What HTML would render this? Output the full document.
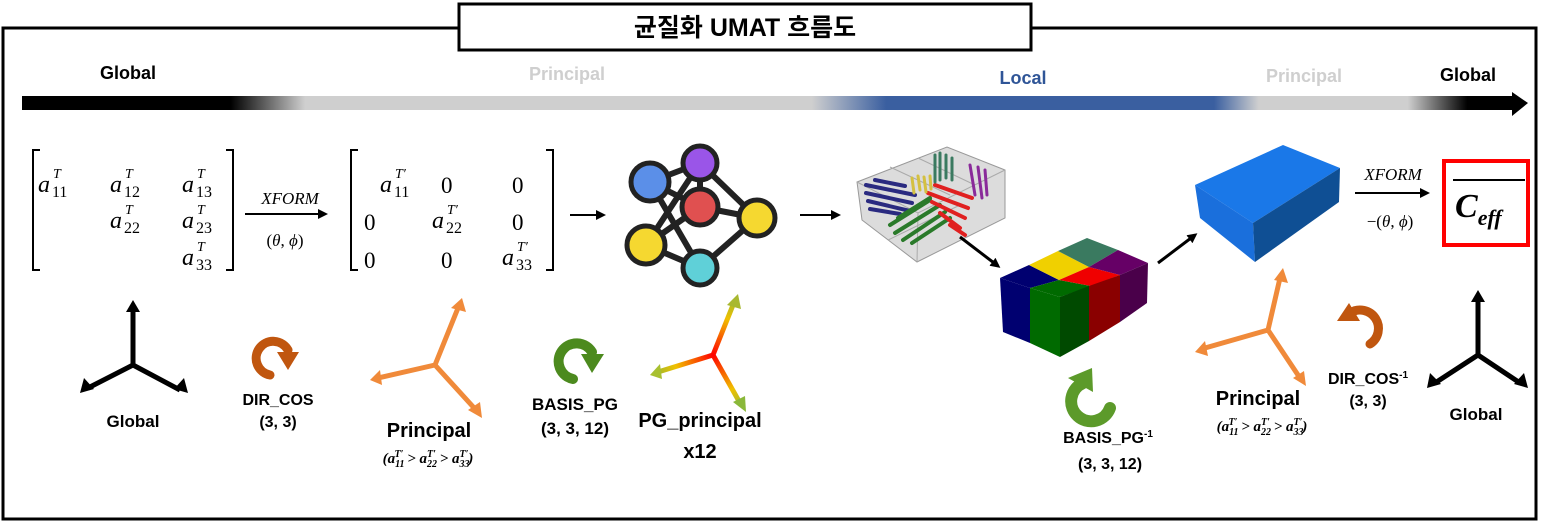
<!DOCTYPE html>
<html><head><meta charset="utf-8"><style>
html,body{margin:0;padding:0;background:#fff;}
svg{display:block;}
.b{font-family:"Liberation Sans","Noto Sans CJK KR",sans-serif;font-weight:bold;}
.m{font-family:"Liberation Serif",serif;font-style:italic;}
.r{font-family:"Liberation Serif",serif;}
</style></head><body>
<svg width="1551" height="524" viewBox="0 0 1551 524" xmlns="http://www.w3.org/2000/svg">
<defs>
<linearGradient id="bar" x1="22" x2="1512" gradientUnits="userSpaceOnUse">
<stop offset="0" stop-color="#000"/><stop offset="0.14" stop-color="#000"/>
<stop offset="0.19" stop-color="#cfcfcf"/><stop offset="0.53" stop-color="#cfcfcf"/>
<stop offset="0.58" stop-color="#3a5fa0"/><stop offset="0.8" stop-color="#3a5fa0"/>
<stop offset="0.83" stop-color="#cfcfcf"/><stop offset="0.93" stop-color="#cfcfcf"/>
<stop offset="0.97" stop-color="#000"/><stop offset="1" stop-color="#000"/>
</linearGradient>
<radialGradient id="pg" cx="713" cy="355" r="65" gradientUnits="userSpaceOnUse">
<stop offset="0" stop-color="#f00"/><stop offset="0.6" stop-color="#f0c000"/><stop offset="1" stop-color="#8ab83a"/>
</radialGradient>
<marker id="ah" markerWidth="10" markerHeight="10" refX="7" refY="5" orient="auto" markerUnits="userSpaceOnUse"><path d="M0,0 L10,5 L0,10 z" fill="#000"/></marker>
</defs>
<rect x="3" y="28" width="1533" height="491" fill="none" stroke="#000" stroke-width="3"/>
<rect x="459" y="4" width="572" height="46" fill="#fff" stroke="#000" stroke-width="3"/>
<text x="745" y="36" class="b" font-size="25" text-anchor="middle">균질화 UMAT 흐름도</text>

<text x="128" y="79" class="b" font-size="18" text-anchor="middle">Global</text>
<text x="567" y="80" class="b" font-size="18" text-anchor="middle" fill="#cfcfcf">Principal</text>
<text x="1023" y="84" class="b" font-size="18" text-anchor="middle" fill="#2f5597">Local</text>
<text x="1304" y="82" class="b" font-size="18" text-anchor="middle" fill="#cfcfcf">Principal</text>
<text x="1468" y="81" class="b" font-size="18" text-anchor="middle">Global</text>
<rect x="22" y="96" width="1492" height="14" fill="url(#bar)"/>
<path d="M1512,92 L1528,103 L1512,116 z" fill="#000"/>

<!-- matrix 1 -->
<path d="M40,150 H33 V270 H40" fill="none" stroke="#000" stroke-width="2"/>
<path d="M226,150 H233 V270 H226" fill="none" stroke="#000" stroke-width="2"/>
<g class="m" font-size="24">
<text x="38" y="192">a</text><text x="110" y="192">a</text><text x="182" y="192">a</text>
<text x="110" y="228">a</text><text x="182" y="228">a</text><text x="182" y="265">a</text>
<text x="380" y="192">a</text><text x="432" y="228">a</text><text x="502" y="265">a</text>
</g>
<g class="m" font-size="14">
<text x="53" y="178">T</text><text x="125" y="178">T</text><text x="197" y="178">T</text>
<text x="125" y="214">T</text><text x="197" y="214">T</text><text x="197" y="251">T</text>
<text x="395" y="178">T′</text><text x="447" y="214">T′</text><text x="517" y="251">T′</text>
</g>
<g class="r" font-size="16">
<text x="52" y="197">11</text><text x="124" y="197">12</text><text x="196" y="197">13</text>
<text x="124" y="233">22</text><text x="196" y="233">23</text><text x="196" y="270">33</text>
<text x="394" y="197">11</text><text x="446" y="233">22</text><text x="516" y="270">33</text>
</g>
<g class="r" font-size="23">
<text x="441" y="193">0</text><text x="512" y="193">0</text>
<text x="364" y="230">0</text><text x="512" y="230">0</text>
<text x="364" y="268">0</text><text x="441" y="268">0</text>
</g>
<path d="M358,150 H351 V270 H358" fill="none" stroke="#000" stroke-width="2"/>
<path d="M546,150 H553 V270 H546" fill="none" stroke="#000" stroke-width="2"/>
<text x="290" y="204" class="m" font-size="17" text-anchor="middle">XFORM</text>
<line x1="245" y1="214" x2="325" y2="214" stroke="#000" stroke-width="2" marker-end="url(#ah)"/>
<text x="285" y="246" class="r" font-size="17" text-anchor="middle">(<tspan font-style="italic">θ</tspan>, <tspan font-style="italic">ϕ</tspan>)</text>
<line x1="570" y1="215" x2="603" y2="215" stroke="#000" stroke-width="2" marker-end="url(#ah)"/>

<!-- network -->
<g stroke="#222" stroke-width="6">
<line x1="650" y1="182" x2="700" y2="163"/><line x1="650" y1="182" x2="700" y2="207"/>
<line x1="650" y1="182" x2="700" y2="268"/><line x1="700" y1="163" x2="646" y2="245"/>
<line x1="700" y1="163" x2="757" y2="218"/><line x1="700" y1="207" x2="757" y2="218"/>
<line x1="700" y1="207" x2="646" y2="245"/><line x1="646" y1="245" x2="700" y2="268"/>
<line x1="757" y1="218" x2="700" y2="268"/><line x1="700" y1="163" x2="700" y2="207"/>
</g>
<g stroke="#222" stroke-width="5">
<circle cx="650" cy="182" r="19" fill="#5b8fe8"/><circle cx="700" cy="163" r="17" fill="#9a55e8"/>
<circle cx="700" cy="207" r="18" fill="#e05050"/><circle cx="757" cy="218" r="18" fill="#f5d830"/>
<circle cx="646" cy="245" r="19" fill="#f5d830"/><circle cx="700" cy="268" r="17" fill="#5fd0d8"/>
</g>
<line x1="800" y1="215" x2="838" y2="215" stroke="#000" stroke-width="2" marker-end="url(#ah)"/>

<!-- fiber box -->
<path d="M857,182 L947,147 L1005,170 L1005,218 L917,262 L862,220 z" fill="#dcdcdc" stroke="#999"/>
<path d="M857,182 L918,213 L1005,170 M918,213 L917,262 M890,167 L950,195 M918,158 L975,185 M888,240 L960,205" fill="none" stroke="#aaa"/>
<g stroke-width="4" stroke-linecap="round">
<g stroke="#2a2a80"><line x1="866" y1="185" x2="915" y2="195"/><line x1="866" y1="193" x2="912" y2="203"/><line x1="868" y1="201" x2="910" y2="211"/><line x1="870" y1="209" x2="900" y2="214"/><line x1="875" y1="180" x2="905" y2="186"/></g>
<g stroke="#2a7a2a"><line x1="890" y1="225" x2="930" y2="200"/><line x1="895" y1="233" x2="940" y2="205"/><line x1="903" y1="240" x2="945" y2="212"/><line x1="912" y1="243" x2="950" y2="218"/><line x1="898" y1="218" x2="930" y2="198"/></g>
<g stroke="#e02020"><line x1="935" y1="185" x2="972" y2="198"/><line x1="928" y1="193" x2="968" y2="208"/><line x1="932" y1="202" x2="965" y2="218"/><line x1="940" y1="213" x2="960" y2="228"/><line x1="950" y1="225" x2="965" y2="235"/></g>
<g stroke="#d4c040" stroke-width="3"><line x1="912" y1="178" x2="914" y2="193"/><line x1="918" y1="176" x2="920" y2="190"/><line x1="924" y1="177" x2="926" y2="192"/><line x1="930" y1="176" x2="931" y2="189"/></g>
<g stroke="#3a7a60" stroke-width="3"><line x1="935" y1="155" x2="935" y2="182"/><line x1="940" y1="153" x2="940" y2="180"/><line x1="946" y1="155" x2="946" y2="178"/><line x1="952" y1="158" x2="952" y2="180"/></g>
<g stroke="#8a2a9a" stroke-width="3"><line x1="970" y1="165" x2="975" y2="195"/><line x1="978" y1="167" x2="982" y2="198"/><line x1="985" y1="170" x2="987" y2="195"/></g>
</g>
<line x1="960" y1="237" x2="998" y2="266" stroke="#000" stroke-width="3" marker-end="url(#ah)"/>

<!-- colored block: top L(1000,278) B(1087,238) R(1148,263) F(1060,297) -->
<path d="M1000,278 L1029,265 L1059,280 L1030,288 z" fill="#000070"/>
<path d="M1029,265 L1058,251 L1089,267 L1059,280 z" fill="#f0d000"/>
<path d="M1058,251 L1087,238 L1118,250 L1089,267 z" fill="#3a7a60"/>
<path d="M1030,288 L1059,280 L1091,286 L1060,297 z" fill="#006a00"/>
<path d="M1059,280 L1089,267 L1120,275 L1091,286 z" fill="#f00000"/>
<path d="M1089,267 L1118,250 L1148,263 L1120,275 z" fill="#660066"/>
<path d="M1000,278 L1030,288 L1030,343 L1003,332 z" fill="#000070"/>
<path d="M1030,288 L1060,297 L1060,357 L1030,343 z" fill="#006a00"/>
<path d="M1060,297 L1089,286 L1089,341 L1060,357 z" fill="#004a00"/>
<path d="M1089,286 L1120,275 L1120,322 L1089,341 z" fill="#8a0000"/>
<path d="M1120,275 L1148,263 L1147,303 L1120,322 z" fill="#4a004a"/>
<line x1="1158" y1="263" x2="1195" y2="235" stroke="#000" stroke-width="3" marker-end="url(#ah)"/>

<!-- blue box -->
<path d="M1195,185 L1283,145 L1340,168 L1253,223 z" fill="#1a78e8"/>
<path d="M1195,185 L1253,223 L1255,262 L1200,218 z" fill="#1a6fdc"/>
<path d="M1253,223 L1340,168 L1339,202 L1255,262 z" fill="#0f4f94"/>

<text x="1393" y="180" class="m" font-size="17" text-anchor="middle">XFORM</text>
<line x1="1355" y1="193" x2="1427" y2="193" stroke="#000" stroke-width="2" marker-end="url(#ah)"/>
<text x="1390" y="227" class="r" font-size="17" text-anchor="middle">−(<tspan font-style="italic">θ</tspan>, <tspan font-style="italic">ϕ</tspan>)</text>
<rect x="1444" y="161" width="84" height="84" fill="none" stroke="#f00" stroke-width="4"/>
<line x1="1453" y1="180" x2="1525" y2="180" stroke="#000" stroke-width="2"/>
<text x="1455" y="217" class="m" font-size="34" font-weight="bold">C<tspan font-size="22" dy="8">eff</tspan></text>

<!-- bottom icons -->
<g stroke="#000" stroke-width="5" fill="none">
<path d="M133,365 V310 M133,365 L88,388 M133,365 L180,390"/>
<path d="M1478,355 V300 M1478,355 L1435,383 M1478,355 L1520,383"/>
</g>
<g fill="#000">
<path d="M126,312 L133,300 L140,312 z"/><path d="M80,393 L84,378 L94,389 z"/><path d="M188,393 L174,389 L184,378 z"/>
<path d="M1471,302 L1478,290 L1485,302 z"/><path d="M1427,388 L1430,373 L1441,384 z"/><path d="M1528,388 L1514,384 L1524,373 z"/>
</g>
<g stroke="#f08a3a" stroke-width="5" fill="none">
<path d="M435,365 L458,308 M435,365 L378,378 M435,365 L476,410"/>
<path d="M1268,330 L1280,278 M1268,330 L1205,348 M1268,330 L1300,378"/>
</g>
<g fill="#f08a3a">
<path d="M451,308 L462,298 L466,312 z"/><path d="M370,380 L380,370 L382,385 z"/><path d="M482,418 L468,410 L480,402 z"/>
<path d="M1274,280 L1283,268 L1288,283 z"/><path d="M1195,352 L1205,341 L1208,356 z"/><path d="M1306,386 L1293,378 L1304,371 z"/>
</g>
<g stroke="url(#pg)" stroke-width="5" fill="none">
<path d="M713,355 L733,305 M713,355 L658,372 M713,355 L740,403"/>
</g>
<path d="M727,305 L738,294 L741,309 z" fill="#a8b830"/><path d="M650,375 L660,364 L662,379 z" fill="#a8c030"/><path d="M746,412 L733,402 L745,396 z" fill="#8ab83a"/>

<!-- rotation icons -->
<g fill="none" stroke-linecap="round">
<path d="M288,350 A17,17 0 1 0 270,375" stroke="#c0560f" stroke-width="9"/>
<path d="M592,352 A18,18 0 1 0 573,379" stroke="#4c8a1e" stroke-width="10"/>
<path d="M1083,383 A20,20 0 1 0 1110,408" stroke="#5c9a2a" stroke-width="12"/>
<path d="M1350,313 A17,17 0 1 1 1370,344" stroke="#c0560f" stroke-width="9"/>
</g>
<path d="M277,352 L299,352 L288,370 z" fill="#c0560f"/>
<path d="M581,354 L604,354 L592,373 z" fill="#4c8a1e"/>
<path d="M1068,378 L1092,368 L1093,392 z" fill="#5c9a2a"/>
<path d="M1337,321 L1360,321 L1349,303 z" fill="#c0560f"/>

<g class="b" text-anchor="middle" font-size="17">
<text x="133" y="427">Global</text>
<text x="278" y="405" font-size="16">DIR_COS</text><text x="278" y="427" font-size="16">(3, 3)</text>
<text x="429" y="437" font-size="20">Principal</text>
<text x="575" y="410">BASIS_PG</text><text x="575" y="434">(3, 3, 12)</text>
<text x="700" y="427" font-size="20">PG_principal</text><text x="700" y="458" font-size="20">x12</text>
<text x="1108" y="443" font-size="16">BASIS_PG<tspan font-size="10" dy="-6">-1</tspan></text><text x="1110" y="469" font-size="16">(3, 3, 12)</text>
<text x="1258" y="405" font-size="20">Principal</text>
<text x="1368" y="384" font-size="16">DIR_COS<tspan font-size="10" dy="-6">-1</tspan></text><text x="1368" y="406" font-size="16">(3, 3)</text>
<text x="1476" y="420">Global</text>
</g>
<text x="428" y="463" class="m" font-size="15" text-anchor="middle" font-weight="bold">(a<tspan font-size="10" dy="4">11</tspan><tspan font-size="10" dx="-10" dy="-10">T′</tspan><tspan dy="6"> &gt; a</tspan><tspan font-size="10" dy="4">22</tspan><tspan font-size="10" dx="-10" dy="-10">T′</tspan><tspan dy="6"> &gt; a</tspan><tspan font-size="10" dy="4">33</tspan><tspan font-size="10" dx="-10" dy="-10">T′</tspan><tspan dy="6">)</tspan></text>
<text x="1262" y="431" class="m" font-size="15" text-anchor="middle" font-weight="bold">(a<tspan font-size="10" dy="4">11</tspan><tspan font-size="10" dx="-10" dy="-10">T′</tspan><tspan dy="6"> &gt; a</tspan><tspan font-size="10" dy="4">22</tspan><tspan font-size="10" dx="-10" dy="-10">T′</tspan><tspan dy="6"> &gt; a</tspan><tspan font-size="10" dy="4">33</tspan><tspan font-size="10" dx="-10" dy="-10">T′</tspan><tspan dy="6">)</tspan></text>
</svg>
</body></html>
